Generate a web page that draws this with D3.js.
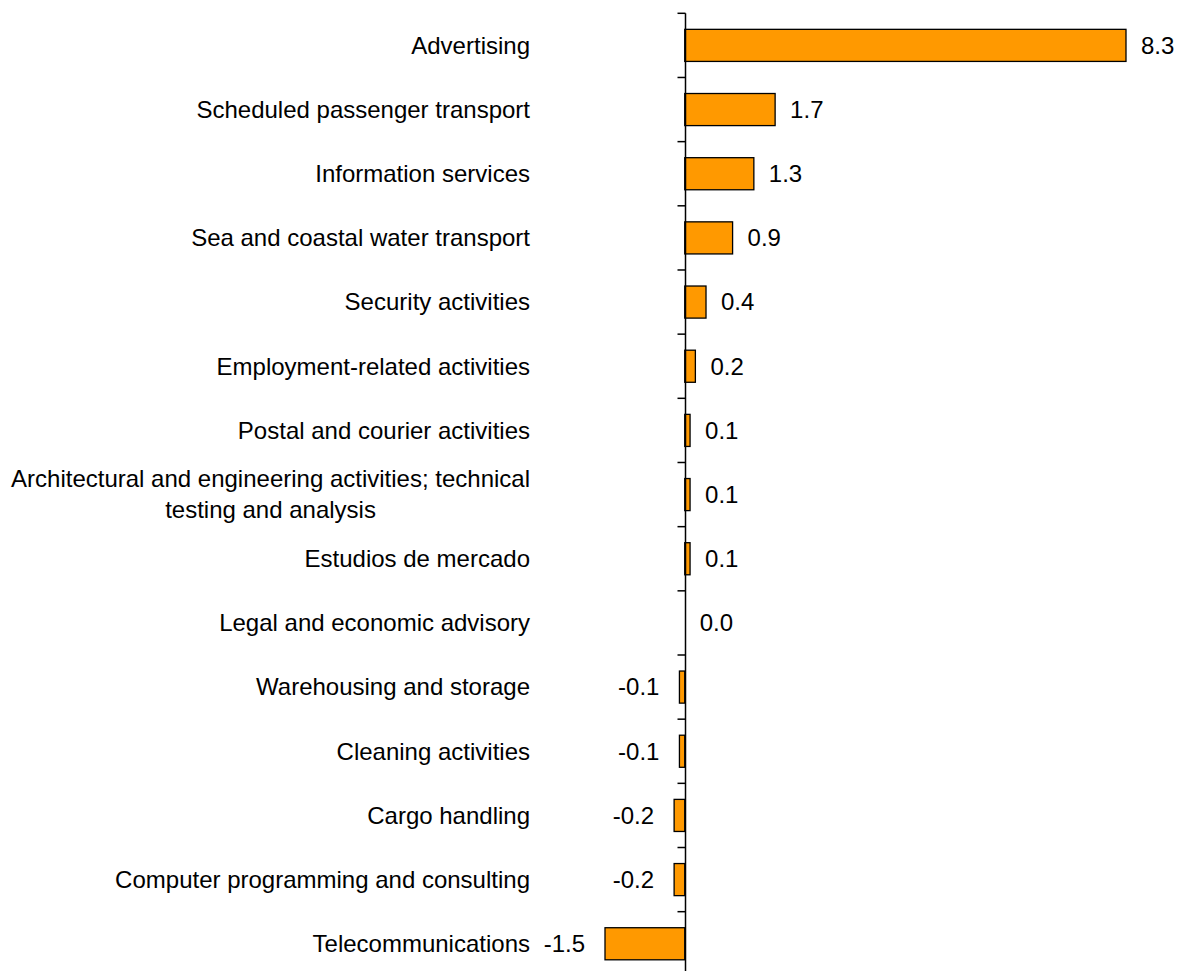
<!DOCTYPE html>
<html lang="en">
<head>
<meta charset="UTF-8">
<title>Bar chart</title>
<script src="https://d3js.org/d3.v7.min.js"></script>
<style>
  body { margin: 0; background: #fff; }
  text { font-family: "Liberation Sans", Arial, sans-serif; font-size: 24px; fill: #000; }
</style>
</head>
<body>
<script>
const categories = [
  "Advertising",
  "Scheduled passenger transport",
  "Information services",
  "Sea and coastal water transport",
  "Security activities",
  "Employment-related activities",
  "Postal and courier activities",
  "Architectural and engineering activities; technical\ntesting and analysis",
  "Estudios de mercado",
  "Legal and economic advisory",
  "Warehousing and storage",
  "Cleaning activities",
  "Cargo handling",
  "Computer programming and consulting",
  "Telecommunications"
];
const values = [8.3, 1.7, 1.3, 0.9, 0.4, 0.2, 0.1, 0.1, 0.1, 0.0, -0.1, -0.1, -0.2, -0.2, -1.5];

const width = 1184, height = 971;

const svg = d3.select("body").append("svg")
  .attr("width", width)
  .attr("height", height);

const x = d3.scaleLinear().domain([-1.5, 8.3]).range([605, 1126]);
const y = d3.scaleBand()
  .domain(d3.range(categories.length))
  .range([13.3, 13.3 + 15 * 64.17])
  .paddingInner(0.5)
  .paddingOuter(0.25);

// bars
svg.selectAll("rect.bar")
  .data(values)
  .join("rect")
  .attr("class", "bar")
  .attr("x", d => x(Math.min(0, d)))
  .attr("y", (d, i) => y(i))
  .attr("width", d => Math.abs(x(d) - x(0)))
  .attr("height", y.bandwidth())
  .attr("fill", d => d === 0 ? "none" : "#FF9900")
  .attr("stroke", d => d === 0 ? "none" : "#000")
  .attr("stroke-width", 1.3);

// axis line + ticks between categories
const x0 = Math.round(x(0)) + 0.5;
svg.append("line")
  .attr("x1", x0).attr("x2", x0)
  .attr("y1", y.range()[0]).attr("y2", height)
  .attr("stroke", "#000").attr("stroke-width", 1.5);

const tickYs = d3.range(categories.length + 1).map(i => y.range()[0] + i * y.step());
svg.selectAll("line.tick")
  .data(tickYs)
  .join("line")
  .attr("class", "tick")
  .attr("x1", x0 - 8).attr("x2", x0)
  .attr("y1", d => d).attr("y2", d => d)
  .attr("stroke", "#000").attr("stroke-width", 1.5);

// value labels
svg.selectAll("text.val")
  .data(values)
  .join("text")
  .attr("class", "val")
  .attr("x", d => d < 0 ? x(d) - 20 : x(d) + 15)
  .attr("y", (d, i) => y(i) + y.bandwidth() / 2)
  .attr("dy", "0.35em")
  .attr("text-anchor", d => d < 0 ? "end" : "start")
  .text(d => d.toFixed(1));

// category labels
const labelRight = 530;
categories.forEach((c, i) => {
  const lines = c.split("\n");
  const cy = y(i) + y.bandwidth() / 2;
  const lh = 31;
  const t = svg.append("text")
    .attr("text-anchor", lines.length > 1 ? "middle" : "end");
  lines.forEach((ln, j) => {
    t.append("tspan")
      .attr("y", cy + (j - (lines.length - 1) / 2) * lh)
      .attr("dy", "0.35em")
      .text(ln);
  });
  if (lines.length > 1) {
    const w = d3.max(t.selectAll("tspan").nodes(), n => n.getComputedTextLength());
    t.selectAll("tspan").attr("x", labelRight - w / 2);
  } else {
    t.selectAll("tspan").attr("x", labelRight);
  }
});
</script>
</body>
</html>
